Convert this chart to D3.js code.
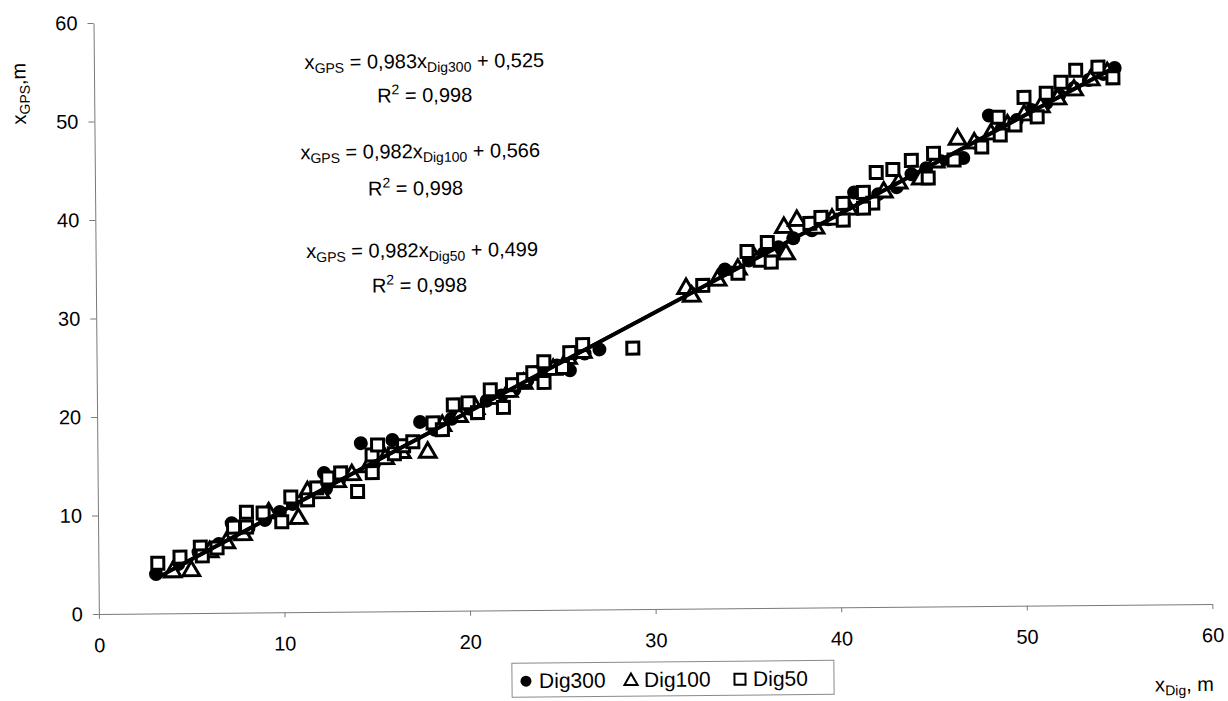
<!DOCTYPE html>
<html><head><meta charset="utf-8">
<script src="https://cdn.jsdelivr.net/npm/d3@7"></script>
<style>
html,body{margin:0;padding:0;background:#fff;}
text{font-family:"Liberation Sans",Arial,sans-serif;fill:#000;}
</style></head>
<body>
<svg id="c" width="1228" height="701"></svg>
<script>
// ---- data (x_Dig, x_GPS) ----
const dig300 = [[3.1,4.0],[4.3,5.0],[5.4,6.2],[6.5,7.0],[7.2,9.1],[8.1,8.6],[9.0,9.4],[9.8,10.2],[10.5,11.0],[11.3,11.8],[12.2,14.1],[12.3,12.5],[13.0,13.3],[14.2,17.1],[14.9,15.0],[15.9,17.4],[16.5,16.5],[17.4,19.2],[18.2,18.4],[19.1,19.5],[20.1,20.5],[21.0,21.3],[21.8,21.8],[22.5,22.4],[23.2,23.3],[24.0,24.1],[24.8,24.8],[25.5,24.3],[26.3,26.0],[27.1,26.4],[32.0,32.1],[33.9,34.4],[35.2,35.3],[36.0,36.0],[36.8,36.6],[37.6,37.5],[38.6,38.3],[39.5,39.4],[40.9,42.1],[41.5,41.3],[42.2,41.9],[43.2,42.6],[44.0,43.9],[44.8,44.5],[45.6,45.2],[46.8,45.5],[47.5,47.0],[48.2,49.8],[48.9,48.5],[49.7,49.3],[50.5,50.3],[51.3,51.0],[52.0,51.8],[52.8,52.5],[53.6,53.3],[54.4,53.9],[55.0,54.5]];
const dig100 = [[4.0,4.3],[5.0,4.4],[6.0,6.3],[6.9,7.2],[7.8,8.0],[9.2,10.2],[10.8,9.6],[11.3,12.3],[12.0,12.2],[12.9,13.3],[13.7,14.0],[14.6,14.8],[15.5,15.6],[16.4,16.2],[17.8,16.2],[18.6,18.9],[19.5,19.8],[20.4,20.6],[21.4,21.6],[22.2,22.3],[23.0,23.1],[23.8,24.0],[24.6,24.5],[25.4,25.6],[26.2,26.2],[31.8,32.6],[32.1,31.8],[33.5,33.4],[34.6,34.5],[35.5,35.6],[36.4,36.3],[37.1,38.7],[37.2,36.0],[37.8,39.4],[38.8,38.6],[39.7,39.5],[40.6,40.5],[41.6,41.3],[42.5,42.2],[43.3,43.1],[44.5,43.5],[45.3,45.2],[46.5,47.5],[47.4,47.1],[48.3,48.0],[49.2,48.9],[50.1,49.9],[51.0,50.7],[51.9,51.5],[52.8,52.4],[53.7,53.4],[54.6,54.1]];
const dig50 = [[3.2,5.1],[4.4,5.7],[5.5,6.7],[5.6,5.8],[6.4,6.6],[7.3,8.7],[8.0,10.2],[8.0,8.7],[8.9,10.1],[9.9,9.2],[10.4,11.7],[11.3,11.4],[11.8,12.6],[12.4,13.6],[13.1,14.1],[14.0,12.2],[14.8,15.9],[14.8,14.1],[15.1,16.9],[16.0,16.0],[16.5,16.8],[17.0,17.2],[18.1,19.1],[18.6,18.4],[19.2,20.9],[20.0,21.1],[20.5,20.1],[21.2,22.4],[21.9,20.6],[22.4,22.9],[23.0,23.4],[23.5,24.1],[24.1,25.2],[24.1,23.1],[25.1,24.6],[25.5,26.1],[26.2,26.9],[28.9,26.5],[32.7,32.8],[34.6,34.0],[35.1,36.2],[35.8,35.3],[36.4,35.1],[36.2,37.1],[38.5,39.0],[39.1,39.6],[40.3,39.3],[40.3,41.0],[41.4,42.1],[41.9,41.0],[41.4,40.5],[42.1,44.1],[43.0,44.4],[44.0,45.3],[44.9,43.5],[45.2,46.0],[46.3,45.3],[47.8,46.6],[48.7,49.6],[48.8,47.8],[49.6,48.8],[50.1,51.6],[50.8,49.6],[51.3,52.0],[52.1,53.1],[52.9,54.3],[54.1,54.6],[54.9,53.5]];
const seriesNames = ["Dig300","Dig100","Dig50"];
const slopes = [0.983, 0.982, 0.982];
const intercepts = [0.525, 0.566, 0.499];
const slopeLabels = ["0,983","0,982","0,982"];
const interceptLabels = ["0,525","0,566","0,499"];
const r2Labels = ["0,998","0,998","0,998"];
const xTicks = [0,10,20,30,40,50,60];
const yTicks = [0,10,20,30,40,50,60];

// ---- layout ----
const svg = d3.select("#c");
const root = svg.append("g").attr("transform","rotate(-0.52,650,350)");
const x = d3.scaleLinear().domain([0,60]).range([96.5,1210]);
const y = d3.scaleLinear().domain([0,60]).range([609,18]);
const axisColor = "#7a7a7a";

// axes
const xa = root.append("g").attr("transform","translate(0,609)")
  .call(d3.axisBottom(x).tickValues(xTicks).tickSize(5).tickSizeOuter(0).tickFormat(d=>d));
xa.select(".domain").attr("stroke",axisColor);
xa.selectAll(".tick line").attr("stroke",axisColor);
xa.selectAll(".tick text").attr("y",24).attr("dy","0.71em").style("font-size","20px").style("font-family","Liberation Sans, Arial, sans-serif");

const ya = root.append("g").attr("transform","translate(96.5,0)")
  .call(d3.axisLeft(y).tickValues(yTicks).tickSize(6).tickSizeOuter(0).tickFormat(d=>d));
ya.select(".domain").attr("stroke",axisColor);
ya.selectAll(".tick line").attr("stroke",axisColor);
ya.selectAll(".tick text").attr("x",-16).style("font-size","20px").style("font-family","Liberation Sans, Arial, sans-serif");

// markers
const sw = 3;
const gm = root.append("g");
gm.selectAll("circle.d300").data(dig300).join("circle")
  .attr("cx",d=>x(d[0])).attr("cy",d=>y(d[1])).attr("r",7).attr("fill","#000");
const tri = d3.symbol().type(d3.symbolTriangle).size(120);
gm.selectAll("path.d100").data(dig100).join("path")
  .attr("d",tri).attr("transform",d=>`translate(${x(d[0])},${y(d[1])+1})`)
  .attr("fill","#fff").attr("stroke","#000").attr("stroke-width",sw);
const sq = 12;
gm.selectAll("rect.d50").data(dig50).join("rect")
  .attr("x",d=>x(d[0])-sq/2).attr("y",d=>y(d[1])-sq/2).attr("width",sq).attr("height",sq)
  .attr("fill","#fff").attr("stroke","#000").attr("stroke-width",sw);

// trend lines
const allSeries = [dig300,dig100,dig50];
const line = d3.line().x(d=>x(d[0])).y(d=>y(d[1]));
allSeries.forEach((s,i)=>{
  const [mn,mx] = d3.extent(s,d=>d[0]);
  root.append("path").datum([[mn,slopes[i]*mn+intercepts[i]],[mx,slopes[i]*mx+intercepts[i]]])
    .attr("d",line).attr("stroke","#000").attr("stroke-width",3.4).attr("fill","none");
});

// equations
const eqBase = [66,156,255];
const r2Base = [100,193,290];
const eqCx = [427,422,423];
const r2Cx = [427,417,420];
const fs = 20, sub = 14;
seriesNames.forEach((n,i)=>{
  const t = root.append("text").attr("x",eqCx[i]).attr("y",eqBase[i]).attr("text-anchor","middle").style("font-size",fs+"px");
  t.append("tspan").text("x");
  t.append("tspan").attr("dy",4).style("font-size",sub+"px").text("GPS");
  t.append("tspan").attr("dy",-4).text(" = "+slopeLabels[i]+"x");
  t.append("tspan").attr("dy",4).style("font-size",sub+"px").text(n);
  t.append("tspan").attr("dy",-4).text(" + "+interceptLabels[i]);
  const r = root.append("text").attr("x",r2Cx[i]).attr("y",r2Base[i]).attr("text-anchor","middle").style("font-size",fs+"px");
  r.append("tspan").text("R");
  r.append("tspan").attr("dy",-8).style("font-size",sub+"px").text("2");
  r.append("tspan").attr("dy",8).text(" = "+r2Labels[i]);
});

// axis titles
const yt = root.append("text").attr("transform","translate(28,88) rotate(-90)").attr("text-anchor","middle").style("font-size",fs+"px");
yt.append("tspan").text("x");
yt.append("tspan").attr("dy",4).style("font-size",sub+"px").text("GPS");
yt.append("tspan").attr("dy",-4).text(",m");
const xt = root.append("text").attr("x",1152).attr("y",696).style("font-size",fs+"px");
xt.append("tspan").text("x");
xt.append("tspan").attr("dy",4).style("font-size",sub+"px").text("Dig");
xt.append("tspan").attr("dy",-4).text(", m");

// legend
const lg = root.append("g");
lg.append("rect").attr("x",509).attr("y",662).attr("width",322).attr("height",34).attr("fill","#fff").attr("stroke","#8a8a8a").attr("stroke-width",1);
const ly = 679;
const itemX = [523,628,737];
lg.append("circle").attr("cx",itemX[0]).attr("cy",ly+1).attr("r",5.5).attr("fill","#000");
lg.append("path").attr("d",d3.symbol().type(d3.symbolTriangle).size(75)).attr("transform",`translate(${itemX[1]},${ly+2})`).attr("fill","#fff").attr("stroke","#000").attr("stroke-width",2);
lg.append("rect").attr("x",itemX[2]-5.5).attr("y",ly-4.5).attr("width",11).attr("height",11).attr("fill","#fff").attr("stroke","#000").attr("stroke-width",2);
seriesNames.forEach((n,i)=>{
  lg.append("text").attr("x",itemX[i]+13).attr("y",ly+8).style("font-size","21px").text(n);
});
</script>
</body></html>
